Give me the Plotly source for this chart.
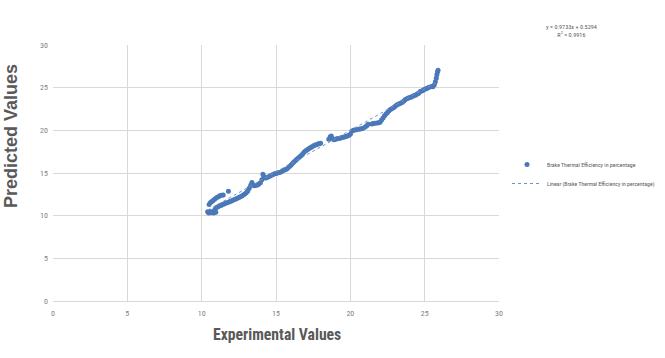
import plotly.graph_objects as go

# Experimental (x) vs predicted (y) values
exp_vals = [
    10.40, 10.48, 10.55, 10.62, 10.70, 10.80, 10.88, 10.95,
    10.50, 10.58, 10.66, 10.75, 10.85, 10.95, 11.05, 11.15, 11.25, 11.35, 11.45, 11.80,
    10.90, 11.00, 11.10, 11.20, 11.30, 11.40, 11.50, 11.60, 11.70, 11.80, 11.90, 12.00,
    12.10, 12.20, 12.30, 12.40, 12.50, 12.60, 12.70, 12.80, 12.90, 13.00, 13.10, 13.20,
    13.30, 13.38, 13.45, 13.55, 13.65, 13.75, 13.85, 13.95, 14.05, 14.12, 14.18, 14.28,
    14.38, 14.50, 14.60, 14.70, 14.80, 14.90, 15.00, 15.10, 15.20, 15.30, 15.40, 15.50,
    15.60, 15.70, 15.80, 15.90, 16.00, 16.10, 16.20, 16.30, 16.40, 16.50, 16.60, 16.70,
    16.80, 16.90, 17.00, 17.10, 17.20, 17.30, 17.40, 17.50, 17.60, 17.70, 17.80, 17.90,
    18.00,
    18.55, 18.65, 18.72, 18.80, 18.90, 19.00, 19.10, 19.20, 19.30, 19.40, 19.50, 19.60,
    19.70, 19.80, 19.90, 20.00, 20.10, 20.20, 20.30, 20.40, 20.55, 20.65, 20.75, 20.85,
    21.00, 21.10, 21.20,
    21.45, 21.55, 21.65, 21.80, 21.90, 22.00, 22.10, 22.20, 22.30, 22.40, 22.50, 22.60,
    22.70, 22.80, 22.90, 23.00, 23.10, 23.20, 23.30, 23.40, 23.50, 23.60, 23.70, 23.80,
    23.90, 24.00, 24.10, 24.20, 24.30, 24.40, 24.50, 24.60, 24.70, 24.80, 24.90, 25.00,
    25.10, 25.20, 25.30, 25.45, 25.55, 25.65, 25.72, 25.78, 25.82, 25.86, 25.90,
]
pred_vals = [
    10.45, 10.30, 10.50, 10.35, 10.45, 10.30, 10.55, 10.40,
    11.30, 11.50, 11.62, 11.75, 11.90, 12.05, 12.15, 12.25, 12.35, 12.40, 12.42, 12.85,
    10.75, 10.95, 11.05, 11.15, 11.20, 11.30, 11.38, 11.45, 11.50, 11.58, 11.65, 11.72,
    11.80, 11.88, 11.95, 12.05, 12.12, 12.22, 12.30, 12.42, 12.55, 12.70, 12.90, 13.20,
    13.55, 13.90, 13.60, 13.50, 13.55, 13.60, 13.70, 13.85, 14.20, 14.85, 14.60, 14.40,
    14.45, 14.55, 14.65, 14.75, 14.82, 14.90, 14.95, 15.00, 15.05, 15.10, 15.20, 15.28,
    15.38, 15.45, 15.60, 15.75, 15.92, 16.10, 16.30, 16.45, 16.60, 16.75, 16.90, 17.05,
    17.25, 17.45, 17.60, 17.72, 17.85, 17.95, 18.05, 18.15, 18.25, 18.30, 18.38, 18.45,
    18.50,
    18.95, 19.25, 19.35, 19.05, 18.90, 18.95, 19.00, 19.05, 19.08, 19.12, 19.18, 19.22,
    19.28, 19.35, 19.42, 19.55, 19.90, 20.00, 20.05, 20.08, 20.12, 20.15, 20.20, 20.25,
    20.40, 20.55, 20.70,
    20.75, 20.80, 20.82, 20.85, 20.88, 20.95, 21.20, 21.45, 21.70, 21.90, 22.10, 22.30,
    22.45, 22.55, 22.65, 22.80, 22.95, 23.05, 23.12, 23.20, 23.30, 23.45, 23.60, 23.70,
    23.78, 23.85, 23.92, 24.00, 24.08, 24.15, 24.25, 24.35, 24.55, 24.62, 24.70, 24.80,
    24.88, 24.95, 25.05, 25.15, 25.10, 25.35, 25.70, 26.10, 26.50, 26.85, 27.05,
]

# Linear trendline reported on the chart
slope = 0.9733
intercept = 0.5294
r_squared = 0.9916
trend_x = [min(exp_vals), max(exp_vals)]
trend_y = [slope * v + intercept for v in trend_x]

x_ticks = [0, 5, 10, 15, 20, 25, 30]
y_ticks = [0, 5, 10, 15, 20, 25, 30]

series_name = "Brake Thermal Efficiency in percentage"
trend_name = "Linear (Brake Thermal Efficiency in percentage)"

narrow = "Liberation Sans Narrow, Arial Narrow, Roboto Condensed, sans-serif"
blue = "#4a78b8"

W, H = 665, 358
L, T = 53, 45
R = W - 499
B = H - 301
pw, ph = W - L - R, H - T - B


def px_x(sx):
    return (sx - L) / pw


def px_y(sy):
    return (H - B - sy) / ph


fig = go.Figure()
fig.add_trace(go.Scatter(
    x=exp_vals, y=pred_vals, mode="markers", name=series_name,
    marker=dict(color=blue, size=5, line=dict(width=0)),
))
fig.add_trace(go.Scatter(
    x=trend_x, y=trend_y, mode="lines", name=trend_name,
    line=dict(color="#6f93c9", width=1, dash="dot"),
))

fig.update_layout(
    width=W, height=H,
    margin=dict(l=L, r=R, t=T, b=B, autoexpand=False),
    paper_bgcolor="white", plot_bgcolor="white",
    font=dict(family=narrow, color="#808080", size=8),
    showlegend=True,
    legend=dict(
        x=507 / W, xref="container", xanchor="left",
        y=1 - 174 / H, yref="container", yanchor="middle",
        font=dict(family=narrow, size=5.8, color="#595959"),
        itemwidth=30, tracegroupgap=0,
        bgcolor="rgba(0,0,0,0)",
    ),
    xaxis=dict(
        range=[0, 30], tickvals=x_ticks, ticktext=[str(t) for t in x_ticks],
        showgrid=True, gridcolor="#d9d9d9", gridwidth=1,
        zeroline=False, showline=True, linecolor="#d9d9d9", mirror=False,
        ticks="", tickfont=dict(size=8, color="#808080", family=narrow),
        ticklabelstandoff=4,
    ),
    yaxis=dict(
        range=[0, 30], tickvals=y_ticks, ticktext=[str(t) for t in y_ticks],
        showgrid=True, gridcolor="#d9d9d9", gridwidth=1,
        zeroline=False, showline=False,
        ticks="", tickfont=dict(size=8, color="#808080", family=narrow),
        ticklabelstandoff=4,
    ),
    annotations=[
        dict(text="<b>Experimental Values</b>", x=px_x(277), y=px_y(334),
             xref="paper", yref="paper", showarrow=False,
             xanchor="center", yanchor="middle",
             font=dict(size=15.7, color="#595959", family=narrow)),
        dict(text="<b>Predicted Values</b>", x=px_x(11), y=px_y(136),
             xref="paper", yref="paper", showarrow=False, textangle=-90,
             xanchor="center", yanchor="middle",
             font=dict(size=18, color="#595959", family="Liberation Sans, Arial, sans-serif")),
        dict(text=f"y = {slope}x + {intercept}<br>R<sup>2</sup> = {r_squared}",
             x=px_x(571), y=px_y(31), xref="paper", yref="paper",
             showarrow=False, align="center", xanchor="center", yanchor="middle",
             font=dict(size=6.2, color="#595959", family=narrow)),
    ],
)

# remove the default 8px page margin so the figure fills the window exactly
fig.write_html("out.html", config={"displayModeBar": False},
               post_script="document.body.style.margin='0px';")
